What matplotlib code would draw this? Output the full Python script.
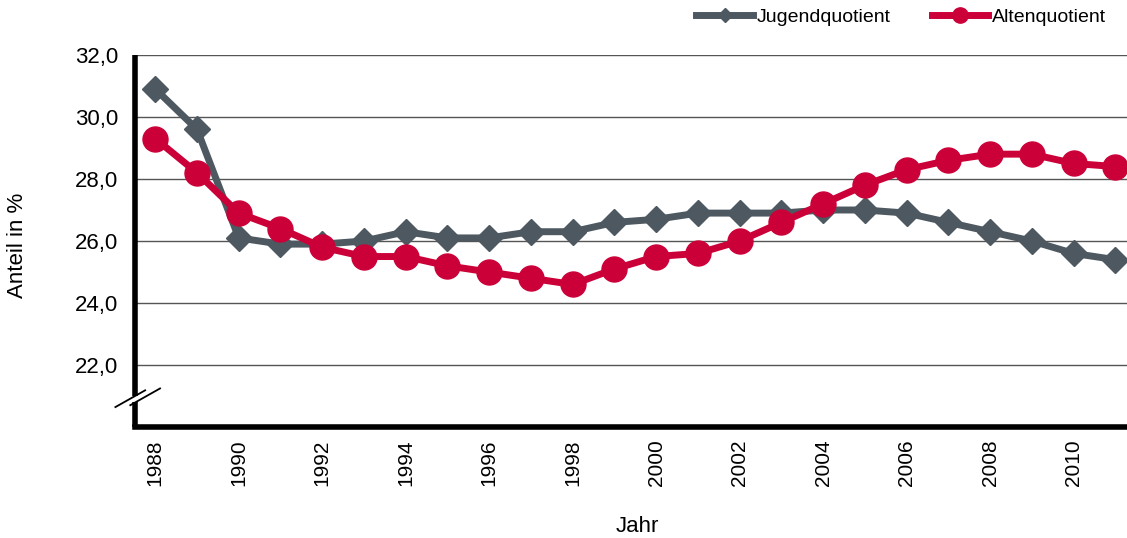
import matplotlib.pyplot as plt
from matplotlib.lines import Line2D

plt.rcParams['font.family'] = ['Liberation Sans', 'DejaVu Sans']

years = list(range(1988, 2012))
jugend = [30.9, 29.6, 26.1, 25.9, 25.9, 26.0, 26.3, 26.1, 26.1, 26.3, 26.3, 26.6,
          26.7, 26.9, 26.9, 26.9, 27.0, 27.0, 26.9, 26.6, 26.3, 26.0, 25.6, 25.4]
alten = [29.3, 28.2, 26.9, 26.4, 25.8, 25.5, 25.5, 25.2, 25.0, 24.8, 24.6, 25.1,
         25.5, 25.6, 26.0, 26.6, 27.2, 27.8, 28.3, 28.6, 28.8, 28.8, 28.5, 28.4]
yticks = [22, 24, 26, 28, 30, 32]

grau = '#4d5860'
rot = '#cc0039'

fig = plt.figure(figsize=(11.27, 5.38), dpi=100)
ax = fig.add_axes([0.12, 0.206, 0.88, 0.692])

for y in yticks:
    ax.axhline(y, color='#555555', lw=1, zorder=1)

ax.plot(years, jugend, color=grau, lw=5, marker='D', ms=13, zorder=3)
ax.plot(years, alten, color=rot, lw=5, marker='o', ms=18, zorder=4)

ax.set_xlim(1987.52, 2011.28)
ax.set_ylim(20, 32)
ax.set_yticks(yticks)
ax.set_yticklabels([f'{v},0' for v in yticks], fontsize=16)
ax.set_xticks(years[::2])
ax.set_xticklabels([str(y) for y in years[::2]], rotation=90, fontsize=15)
ax.tick_params(axis='y', length=0, pad=12)
ax.tick_params(axis='x', length=0, pad=9)

for s in ['top', 'right']:
    ax.spines[s].set_visible(False)
ax.spines['left'].set_linewidth(4)
ax.spines['bottom'].set_linewidth(4)
ax.spines['left'].set_capstyle('butt')

# Achsenbruch
ax.plot([0, 0], [0.067, 0.083], transform=ax.transAxes, color='white', lw=6,
        clip_on=False, zorder=5, solid_capstyle='butt')
ax.plot([-0.020, 0.010], [0.054, 0.099], transform=ax.transAxes, color='black', lw=1.3,
        clip_on=False, zorder=6)
ax.plot([-0.005, 0.025], [0.059, 0.104], transform=ax.transAxes, color='black', lw=1.3,
        clip_on=False, zorder=6)

fig.text(18 / 1127, 1 - 245 / 538, 'Anteil in %', rotation=90, fontsize=16,
         ha='center', va='center')
fig.text(637 / 1127, 1 - 527 / 538, 'Jahr', fontsize=16, ha='center', va='center')

handles = [
    Line2D([], [], color=grau, lw=5, marker='D', ms=7),
    Line2D([], [], color=rot, lw=5, marker='o', ms=11),
]
fig.legend(handles, ['Jugendquotient', 'Altenquotient'], loc='upper right',
           bbox_to_anchor=(1106 / 1127, 1 - 8 / 538), ncol=2, frameon=False,
           fontsize=14, borderpad=0, borderaxespad=0,
           handlelength=2.9, handletextpad=0.2, columnspacing=2.1)

fig.savefig('out.png', dpi=100)
